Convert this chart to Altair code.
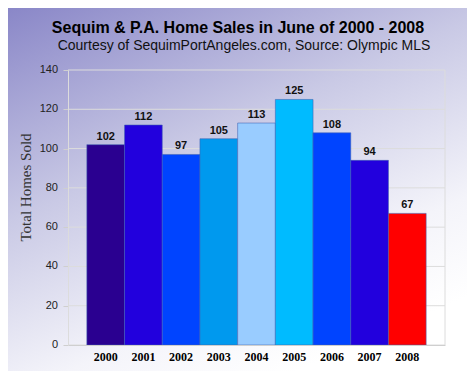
import altair as alt
import pandas as pd

years = ["2000", "2001", "2002", "2003", "2004", "2005", "2006", "2007", "2008"]
sales = [102, 112, 97, 105, 113, 125, 108, 94, 67]
bar_colors = ["#2a0090", "#2200dd", "#0044ff", "#0099ee", "#99ccff",
              "#00bbff", "#0044ff", "#2200dd", "#ff0000"]
y_ticks = [0, 20, 40, 60, 80, 100, 120, 140]
title_text = "Sequim & P.A. Home Sales in June of 2000 - 2008"
subtitle_text = "Courtesy of SequimPortAngeles.com, Source: Olympic MLS"

df = pd.DataFrame({"year": years, "sales": sales, "color": bar_colors})
ticks_df = pd.DataFrame({"v": y_ticks})
one = alt.Data(values=[{"k": 1}])

W, H = 377, 275

yaxis = alt.Axis(values=y_ticks, title="Total Homes Sold", zindex=1,
                 grid=False, labels=False,
                 titleFont="Liberation Serif", titleFontSize=15,
                 titleFontWeight="normal", titleColor="#333",
                 titleAngle=-90, titleX=-43, titleY=117,
                 titleAlign="center", titleBaseline="middle",
                 tickSize=5, tickColor="#cfcfcf",
                 domainColor="#dcdcdc")
yscale = alt.Scale(domain=[0, 140], nice=False)

bg = alt.Chart(one).mark_rect(
    color=alt.LinearGradient(
        gradient="linear",
        stops=[
            alt.GradientStop(color="#8683c6", offset=0),
            alt.GradientStop(color="#c9c9e5", offset=0.45),
            alt.GradientStop(color="#f4f4fa", offset=0.8),
            alt.GradientStop(color="#ffffff", offset=1),
        ],
        x1=0, y1=0, x2=0.55, y2=1,
    )
).encode(
    x=alt.value(-70), x2=alt.value(W + 40),
    y=alt.value(-70), y2=alt.value(H + 40),
)

grid = alt.Chart(ticks_df).mark_rule(color="#dcdcdc", strokeWidth=1).encode(
    y=alt.Y("v:Q", scale=yscale, axis=yaxis, title="Total Homes Sold")
)

ylabels = alt.Chart(ticks_df).mark_text(
    font="Liberation Sans", fontSize=11, color="#222",
    align="right", baseline="middle"
).encode(
    x=alt.value(-10),
    y=alt.Y("v:Q", scale=yscale, axis=yaxis, title="Total Homes Sold"),
    text=alt.Text("v:Q"),
)

right_border = alt.Chart(one).mark_rule(color="#dcdcdc", strokeWidth=1).encode(
    x=alt.value(W)
)

xaxis = alt.Axis(title=None, labelAngle=0, ticks=False, zindex=1,
                 labelFont="Liberation Serif", labelFontWeight="bold",
                 labelFontSize=12, labelColor="#000", labelPadding=6,
                 domainColor="#cfcfcf", grid=False)
xscale = alt.Scale(paddingInner=0, paddingOuter=0.5)

bars = alt.Chart(df).mark_bar(
    stroke="#4060b0", strokeWidth=1, strokeOpacity=0.55
).encode(
    x=alt.X("year:N", sort=years, scale=xscale, axis=xaxis),
    y=alt.Y("sales:Q", scale=yscale, axis=yaxis, title="Total Homes Sold"),
    color=alt.Color("color:N", scale=None, legend=None),
)

labels = alt.Chart(df).mark_text(
    font="Liberation Sans", fontWeight="bold", fontSize=11, color="#111",
    baseline="bottom", dy=-3
).encode(
    x=alt.X("year:N", sort=years, scale=xscale, axis=xaxis),
    y=alt.Y("sales:Q", scale=yscale, axis=yaxis, title="Total Homes Sold"),
    text=alt.Text("sales:Q"),
)

title = alt.Chart(one).mark_text(
    text=title_text, font="Liberation Sans", fontSize=16, fontWeight="bold",
    color="#000", align="center", baseline="alphabetic"
).encode(x=alt.value(170), y=alt.value(-37))

subtitle = alt.Chart(one).mark_text(
    text=subtitle_text, font="Liberation Sans", fontSize=14,
    color="#111", align="center", baseline="alphabetic"
).encode(x=alt.value(176), y=alt.value(-20))

chart = alt.layer(bg, grid, right_border, bars, labels, ylabels, title, subtitle).properties(
    width=W, height=H,
    autosize=alt.AutoSizeParams(type="none"),
    padding={"left": 60, "top": 62, "right": 22, "bottom": 26},
    background="#ffffff",
).configure_view(stroke=None, fill=None)

chart.save("out.html", embed_options={"renderer": "svg", "actions": False})
